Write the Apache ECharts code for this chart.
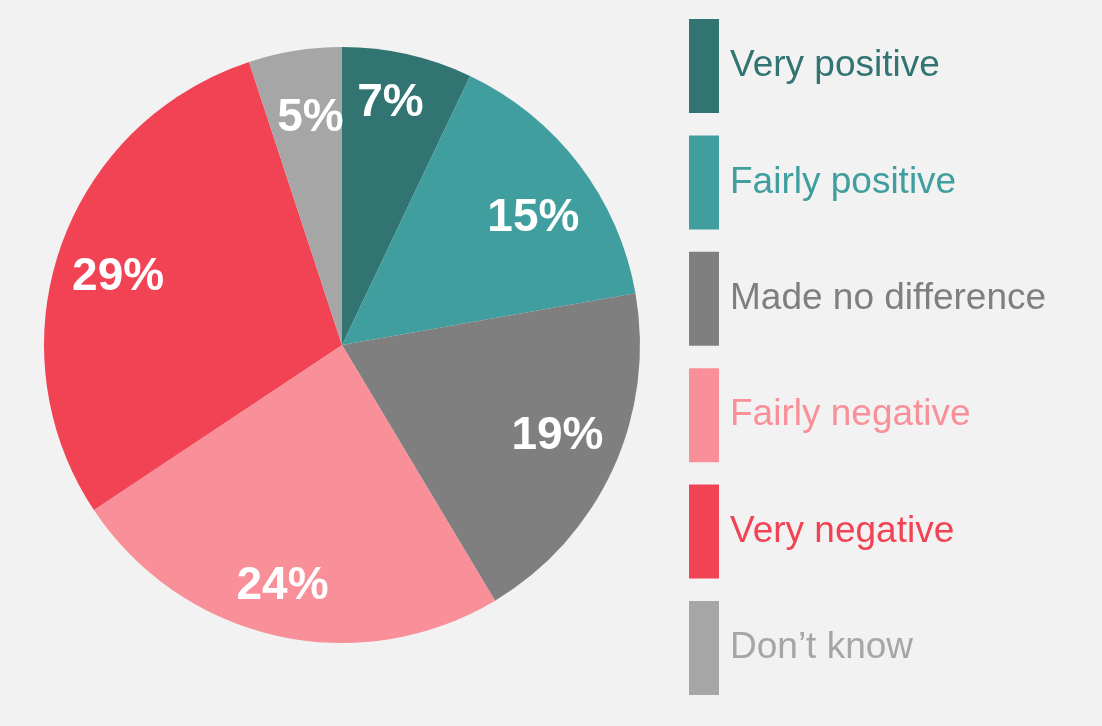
<!DOCTYPE html>
<html>
<head>
<meta charset="utf-8">
<script src="https://cdn.jsdelivr.net/npm/echarts@6/dist/echarts.min.js"></script>
<style>
  html, body { margin: 0; padding: 0; background: #f2f2f2; }
  #chart { width: 1102px; height: 726px; }
</style>
</head>
<body>
<div id="chart"></div>
<script>
const categories = ['Very positive', 'Fairly positive', 'Made no difference', 'Fairly negative', 'Very negative', 'Don\u2019t know'];
const shares = [7, 15, 19, 24, 29, 5];
const palette = ['#317472', '#419e9e', '#7f7f7f', '#f98f98', '#f24355', '#a6a6a6'];

const font = '"Liberation Sans", Arial, sans-serif';
// small label nudges so the percentages sit where the original placed them
const labelNudge = [[-4, -10], [2, 17], [-1, -8], [-7, 9], [1, 10], [6, 8]];

const chart = echarts.init(document.getElementById('chart'), null, { renderer: 'canvas' });
chart.setOption({
  animation: false,
  backgroundColor: '#f2f2f2',
  textStyle: { fontFamily: font },
  legend: {
    orient: 'vertical',
    left: 689,
    top: 19,
    padding: 0,
    itemWidth: 30,
    itemHeight: 94,
    itemGap: 22.4,
    icon: 'rect',
    selectedMode: false,
    textStyle: { fontSize: 37, fontFamily: font, padding: [6, 0, 0, 6] },
    data: categories.map((name, i) => ({
      name,
      itemStyle: { color: palette[i] },
      textStyle: { color: palette[i] }
    }))
  },
  series: [
    {
      name: 'share',
      type: 'pie',
      center: [342, 345],
      radius: [0, 298],
      startAngle: 90,
      clockwise: true,
      silent: true,
      label: { show: false },
      labelLine: { show: false },
      data: categories.map((name, i) => ({ name, value: shares[i], itemStyle: { color: palette[i] } }))
    },
    {
      // transparent ring that only carries the percentage labels
      name: 'labels',
      type: 'pie',
      center: [342, 345],
      radius: [172, 298],
      startAngle: 90,
      clockwise: true,
      silent: true,
      itemStyle: { color: 'transparent' },
      label: {
        show: true,
        position: 'inside',
        formatter: (p) => p.value + '%',
        color: '#ffffff',
        fontSize: 46,
        fontWeight: 'bold',
        fontFamily: font
      },
      labelLine: { show: false },
      data: categories.map((name, i) => ({ name, value: shares[i], label: { offset: labelNudge[i] } }))
    }
  ]
});
</script>
</body>
</html>
